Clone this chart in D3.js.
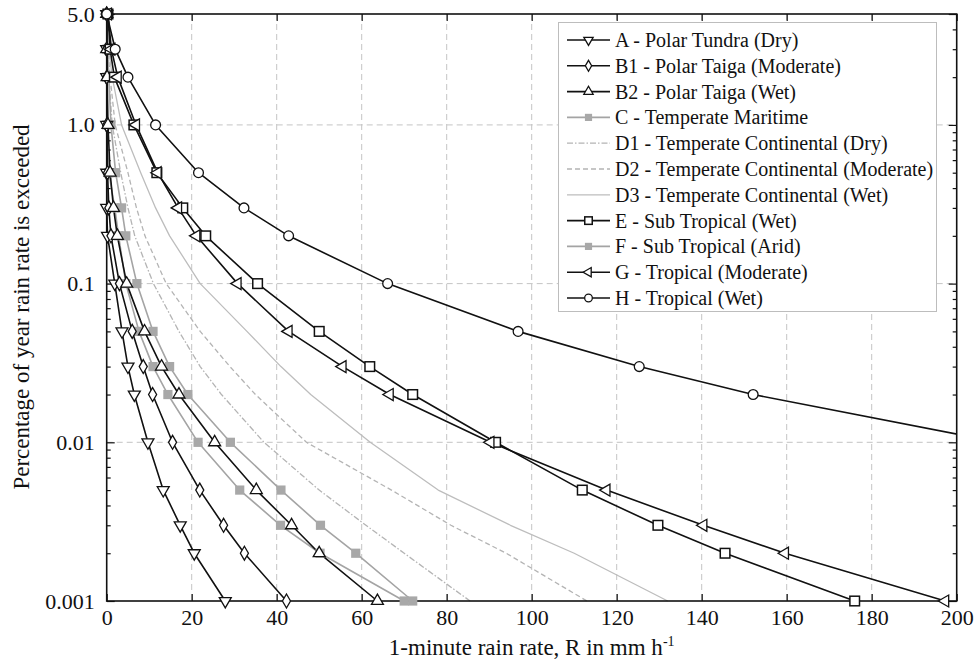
<!DOCTYPE html>
<html>
<head>
<meta charset="utf-8">
<script src="https://cdn.jsdelivr.net/npm/d3@7"></script>
</head>
<body style="margin:0">
<svg id="rainfig" width="978" height="665" style="font-family:'Liberation Serif'"></svg>
<script>
// Percentage of the year for which each rain rate is exceeded
const percents = [5, 3, 2, 1, 0.5, 0.3, 0.2, 0.1, 0.05, 0.03, 0.02, 0.01, 0.005, 0.003, 0.002, 0.001];

// 1-minute rain rate (mm/h) per climate zone, one value per percentage above
const rateA  = [0, 0, 0, 0, 0, 0, 0.2, 1.9, 3.6, 5.0, 6.5, 9.7, 13.3, 17.3, 20.6, 27.9];
const rateB1 = [0, 0, 0, 0, 0.2, 0.5, 1.0, 3.0, 6.0, 8.6, 10.8, 15.5, 21.9, 27.5, 32.4, 42.3];
const rateB2 = [0, 0, 0.1, 0.3, 0.8, 1.6, 2.5, 4.7, 8.9, 12.9, 17.0, 25.4, 35.2, 43.5, 50.0, 63.7];
const rateC  = [0, 0.2, 0.5, 1.0, 2.1, 3.5, 4.5, 7.1, 10.9, 14.8, 19.1, 29.1, 41.0, 50.3, 58.6, 72.0];
const rateD1 = [0, 0.2, 0.5, 1.3, 3.3, 5.0, 6.6, 11.0, 17.0, 22.0, 27.0, 37.0, 50.0, 61.0, 70.0, 85.5];
const rateD2 = [0, 0.3, 0.8, 2.0, 5.0, 7.0, 9.0, 14.0, 22.0, 29.0, 35.0, 47.0, 67.0, 81.0, 94.0, 113.0];
const rateD3 = [0, 0.5, 1.3, 3.5, 8.0, 11.5, 14.8, 22.0, 33.0, 41.0, 48.0, 62.0, 78.0, 95.0, 110.0, 132.0];
const rateE  = [0.3, 0.8, 1.8, 6.4, 11.8, 17.9, 23.3, 35.5, 50.0, 61.9, 72.0, 91.5, 111.9, 129.7, 145.5, 176.0];
const rateF  = [0, 0, 0, 0, 0.5, 1.9, 2.8, 4.5, 7.6, 10.9, 14.4, 21.5, 31.3, 40.9, 50.2, 70.0];
const rateG  = [0.3, 1.1, 2.6, 6.9, 12.0, 16.8, 21.1, 30.8, 42.8, 55.5, 66.6, 90.3, 117.6, 140.4, 159.6, 197.3];
const rateH  = [0, 2.0, 5.0, 11.5, 21.6, 32.3, 42.8, 66.1, 96.8, 125.3, 152.1, 210.0];

const zoneNames = [
  "A - Polar Tundra (Dry)",
  "B1 - Polar Taiga (Moderate)",
  "B2 - Polar Taiga (Wet)",
  "C - Temperate Maritime",
  "D1 - Temperate Continental (Dry)",
  "D2 - Temperate Continental (Moderate)",
  "D3 - Temperate Continental (Wet)",
  "E - Sub Tropical (Wet)",
  "F - Sub Tropical (Arid)",
  "G - Tropical (Moderate)",
  "H - Tropical (Wet)"
];

const xTicks = [0, 20, 40, 60, 80, 100, 120, 140, 160, 180, 200];
const yTicks = [0.001, 0.01, 0.1, 1, 5];
const yTickLabels = ["0.001", "0.01", "0.1", "1.0", "5.0"];
const yGrid = [0.01, 0.1, 1];

// Serif face for every text element
function serif(sel, size) {
  sel.attr("font-family", "Liberation Serif")
     .style("font-family", "'Liberation Serif'")
     .style("font-size", size + "px");
  return sel;
}

// Styles for each zone
const BLACK = { stroke: "#111", width: 1.6, dash: null };
const GREYM = { stroke: "#a4a4a4", width: 1.6, dash: null };
const styles = [
  { ...BLACK, symbol: "down" },
  { ...BLACK, symbol: "diamond" },
  { ...BLACK, symbol: "up" },
  { ...GREYM, symbol: "greysquare" },
  { stroke: "#b4b4b4", width: 1.3, dash: "6,2,1.5,2", symbol: null },
  { stroke: "#b4b4b4", width: 1.3, dash: "5,3", symbol: null },
  { stroke: "#bdbdbd", width: 1.3, dash: null, symbol: null },
  { ...BLACK, symbol: "square" },
  { ...GREYM, symbol: "greysquare" },
  { ...BLACK, symbol: "left" },
  { ...BLACK, symbol: "circle" }
];
const rates = [rateA, rateB1, rateB2, rateC, rateD1, rateD2, rateD3, rateE, rateF, rateG, rateH];

const series = zoneNames.map((name, i) => ({
  name,
  style: styles[i],
  points: rates[i].map((r, j) => ({ rate: r, pct: percents[j] }))
}));

const svg = d3.select("#rainfig");
const plot = { left: 106.7, right: 956.7, top: 14, bottom: 601 };

const x = d3.scaleLinear().domain([0, 200]).range([plot.left, plot.right]);
const y = d3.scaleLog().domain([0.001, 5]).range([plot.bottom, plot.top]);

svg.append("defs").append("clipPath").attr("id", "plotClip")
  .append("rect")
  .attr("x", plot.left).attr("y", plot.top - 6)
  .attr("width", plot.right - plot.left).attr("height", plot.bottom - plot.top + 12);

// Grid
const grid = svg.append("g").attr("stroke", "#c4c4c4").attr("stroke-width", 1)
  .attr("stroke-dasharray", "6,4");
grid.selectAll("line.gx").data(xTicks.slice(1, -1)).join("line")
  .attr("x1", d => x(d)).attr("x2", d => x(d))
  .attr("y1", plot.top).attr("y2", plot.bottom);
grid.selectAll("line.gy").data(yGrid).join("line")
  .attr("x1", plot.left).attr("x2", plot.right)
  .attr("y1", d => y(d)).attr("y2", d => y(d));

// Minor log ticks
const minorTicks = [];
[0.001, 0.01, 0.1, 1].forEach(dec => {
  for (let m = 2; m <= 9; m++) {
    const v = +(dec * m).toPrecision(3);
    if (v < 5) minorTicks.push(v);
  }
});

// Axes (ticks pointing inward)
const xb = svg.append("g").attr("transform", `translate(0,${plot.bottom})`)
  .call(d3.axisBottom(x).tickValues(xTicks).tickFormat(d3.format("d"))
    .tickSizeInner(-7).tickSizeOuter(0).tickPadding(8));
const xt = svg.append("g").attr("transform", `translate(0,${plot.top})`)
  .call(d3.axisTop(x).tickValues(xTicks).tickFormat("")
    .tickSizeInner(-7).tickSizeOuter(0));
const yl = svg.append("g").attr("transform", `translate(${plot.left},0)`)
  .call(d3.axisLeft(y).tickValues(yTicks).tickFormat((d, i) => yTickLabels[i])
    .tickSizeInner(-8).tickSizeOuter(0).tickPadding(12));
const ylm = svg.append("g").attr("transform", `translate(${plot.left},0)`)
  .call(d3.axisLeft(y).tickValues(minorTicks).tickFormat("")
    .tickSizeInner(-4).tickSizeOuter(0));
const yr = svg.append("g").attr("transform", `translate(${plot.right},0)`)
  .call(d3.axisRight(y).tickValues(yTicks).tickFormat("")
    .tickSizeInner(-8).tickSizeOuter(0));
const yrm = svg.append("g").attr("transform", `translate(${plot.right},0)`)
  .call(d3.axisRight(y).tickValues(minorTicks).tickFormat("")
    .tickSizeInner(-4).tickSizeOuter(0));

[xb, xt, yl, ylm, yr, yrm].forEach(g => {
  g.attr("font-family", "Liberation Serif").attr("font-size", 22);
  g.select(".domain").remove();
  g.selectAll(".tick line").attr("stroke", "#111").attr("stroke-width", 1.2);
  serif(g.selectAll(".tick text"), 22).attr("fill", "#111");
});

// Series lines
const line = d3.line()
  .x(d => x(d.rate))
  .y(d => y(d.pct));

const drawOrder = [4, 5, 6, 3, 8, 0, 1, 2, 7, 9, 10];
const linesG = svg.append("g").attr("clip-path", "url(#plotClip)");
drawOrder.forEach(i => {
  const s = series[i];
  linesG.append("path")
    .datum(s.points)
    .attr("fill", "none")
    .attr("stroke", s.style.stroke)
    .attr("stroke-width", s.style.width)
    .attr("stroke-dasharray", s.style.dash)
    .attr("stroke-linejoin", "round")
    .attr("d", line);
});

// Marker shapes
function marker(g, kind, cx, cy, scale) {
  const k = scale || 1;
  if (kind === "circle") {
    g.append("circle").attr("cx", cx).attr("cy", cy).attr("r", 4.9 * k)
      .attr("fill", "#fff").attr("stroke", "#111").attr("stroke-width", 1.3);
  } else if (kind === "square") {
    const h = 4.8 * k;
    g.append("rect").attr("x", cx - h).attr("y", cy - h).attr("width", 2 * h).attr("height", 2 * h)
      .attr("fill", "#fff").attr("stroke", "#111").attr("stroke-width", 1.5);
  } else if (kind === "greysquare") {
    const h = 4.6 * k;
    g.append("rect").attr("x", cx - h).attr("y", cy - h).attr("width", 2 * h).attr("height", 2 * h)
      .attr("fill", "#a8a8a8").attr("stroke", "none");
  } else if (kind === "diamond") {
    const sym = d3.symbol().type(d3.symbolDiamond).size(56 * k * k);
    g.append("path").attr("d", sym()).attr("transform", `translate(${cx},${cy})`)
      .attr("fill", "#fff").attr("stroke", "#111").attr("stroke-width", 1.3);
  } else {
    const rot = kind === "up" ? 0 : kind === "down" ? 180 : -90;
    const sym = d3.symbol().type(d3.symbolTriangle).size(62 * k * k);
    g.append("path").attr("d", sym()).attr("transform", `translate(${cx},${cy}) rotate(${rot})`)
      .attr("fill", "#fff").attr("stroke", "#111").attr("stroke-width", 1.3);
  }
}

// Plot frame
svg.append("rect")
  .attr("x", plot.left).attr("y", plot.top)
  .attr("width", plot.right - plot.left).attr("height", plot.bottom - plot.top)
  .attr("fill", "none").attr("stroke", "#111").attr("stroke-width", 1.6);

const markG = svg.append("g");
drawOrder.forEach(i => {
  const s = series[i];
  if (!s.style.symbol) return;
  s.points.filter(p => p.rate <= 200).forEach(p => {
    marker(markG, s.style.symbol, x(p.rate), y(p.pct), 1);
  });
});

// Legend
const lg = svg.append("g");
const lgBox = { x: 558.5, y: 22.5, w: 378, h: 289 };
lg.append("rect").attr("x", lgBox.x).attr("y", lgBox.y)
  .attr("width", lgBox.w).attr("height", lgBox.h)
  .attr("fill", "#fff").attr("stroke", "#bdbdbd").attr("stroke-width", 1);
series.forEach((s, i) => {
  const cy = 40 + i * 25.8;
  lg.append("line")
    .attr("x1", 567).attr("x2", 610).attr("y1", cy).attr("y2", cy)
    .attr("stroke", s.style.stroke).attr("stroke-width", s.style.width)
    .attr("stroke-dasharray", s.style.dash);
  if (s.style.symbol) marker(lg, s.style.symbol, 588.5, cy, 0.78);
  serif(lg.append("text"), 20).attr("x", 615).attr("y", cy).attr("dy", "0.35em")
    .attr("fill", "#111").text(s.name);
});

// Axis titles
const xTitle = serif(svg.append("text"), 23)
  .attr("x", (plot.left + plot.right) / 2).attr("y", 655)
  .attr("text-anchor", "middle").attr("fill", "#111");
xTitle.append("tspan").text("1-minute rain rate, R in mm h");
xTitle.append("tspan").attr("dy", -9).style("font-size", "14px").text("-1");

serif(svg.append("text"), 23)
  .attr("transform", "translate(29,307) rotate(-90)")
  .attr("text-anchor", "middle").attr("fill", "#111")
  .text("Percentage of year rain rate is exceeded");
</script>
</body>
</html>
